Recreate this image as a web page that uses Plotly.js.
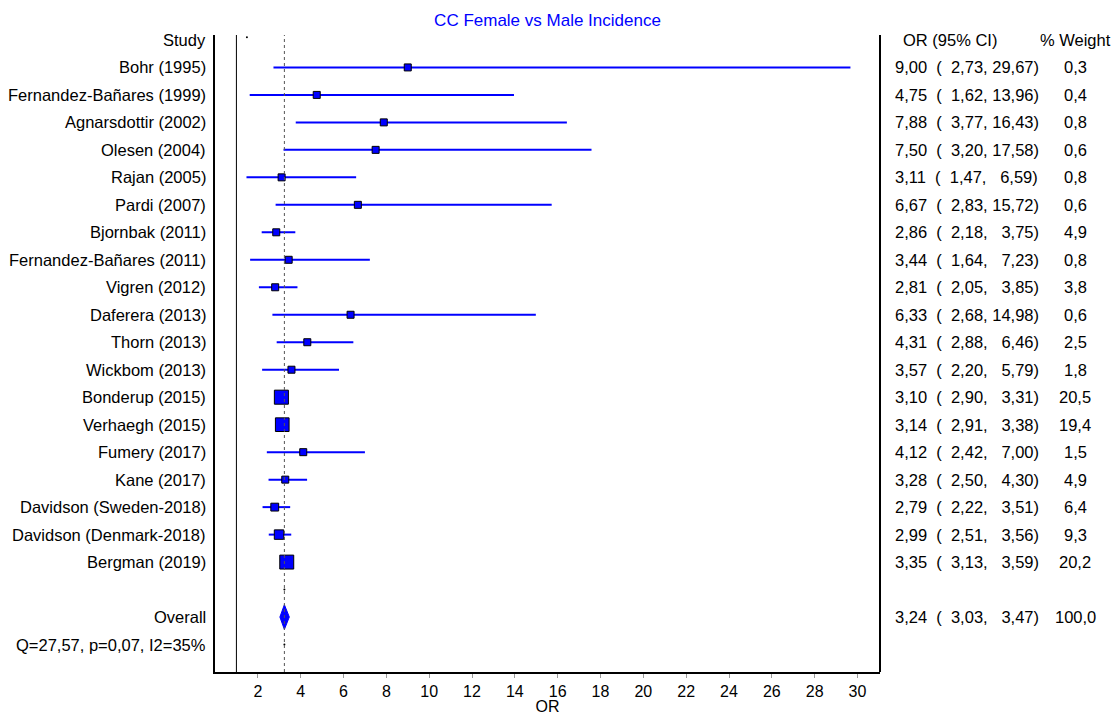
<!DOCTYPE html>
<html><head><meta charset="utf-8">
<script src="https://cdn.plot.ly/plotly-3.0.1.min.js"></script>
<style>body{margin:0;background:#fff}#chart{width:1112px;height:715px}</style>
</head><body><div id="chart"></div>
<script>
const studies = ["Bohr (1995)","Fernandez-Bañares (1999)","Agnarsdottir (2002)","Olesen (2004)","Rajan (2005)","Pardi (2007)","Bjornbak (2011)","Fernandez-Bañares (2011)","Vigren (2012)","Daferera (2013)","Thorn (2013)","Wickbom (2013)","Bonderup (2015)","Verhaegh (2015)","Fumery (2017)","Kane (2017)","Davidson (Sweden-2018)","Davidson (Denmark-2018)","Bergman (2019)"];
const orVals = [9.00,4.75,7.88,7.50,3.11,6.67,2.86,3.44,2.81,6.33,4.31,3.57,3.10,3.14,4.12,3.28,2.79,2.99,3.35];
const loVals = [2.73,1.62,3.77,3.20,1.47,2.83,2.18,1.64,2.05,2.68,2.88,2.20,2.90,2.91,2.42,2.50,2.22,2.51,3.13];
const hiVals = [29.67,13.96,16.43,17.58,6.59,15.72,3.75,7.23,3.85,14.98,6.46,5.79,3.31,3.38,7.00,4.30,3.51,3.56,3.59];
const weights = [0.3,0.4,0.8,0.6,0.8,0.6,4.9,0.8,3.8,0.6,2.5,1.8,20.5,19.4,1.5,4.9,6.4,9.3,20.2];
const overall = {label:"Overall", or:3.24, lo:3.03, hi:3.47, weight:100.0};
const heteroText = "Q=27,57, p=0,07, I2=35%";
const titleText = "CC Female vs Male Incidence";
const xTicks = [2,4,6,8,10,12,14,16,18,20,22,24,26,28,30];

const NB = "\u00A0";
function fmt(v, digits){
  let s = v.toFixed(2).replace('.', ',');
  const intLen = s.split(',')[0].length;
  return NB.repeat(2*(digits-intLen)) + s;
}
function orText(o,l,h){ return fmt(o,1) + NB+NB + "(" + NB+NB + fmt(l,1) + "," + NB + fmt(h,2) + ")"; }
function wText(w){ return w.toFixed(1).replace('.', ','); }

const rows = studies.map((s,i)=>i+1);
const overallRow = studies.length + 2;
const heteroRow = overallRow + 1;

const cx=[], cy=[];
studies.forEach((s,i)=>{ cx.push(loVals[i],hiVals[i],null); cy.push(rows[i],rows[i],null); });
const sizes = weights.map(w=>Math.max(7, 3.1*Math.sqrt(w)));

const traces = [
  {type:'scatter', mode:'lines', x:cx, y:cy, line:{color:'#0000ff', width:2}, hoverinfo:'skip', showlegend:false},
  {type:'scatter', mode:'markers', x:orVals, y:rows, marker:{symbol:'square', size:sizes, color:'#0000ff', opacity:1, line:{color:'#000', width:1}}, showlegend:false},
  {type:'scatter', mode:'lines', fill:'toself', fillcolor:'#0000ff',
    x:[overall.lo, overall.or, overall.hi, overall.or, overall.lo],
    y:[overallRow, overallRow-0.45, overallRow, overallRow+0.45, overallRow],
    line:{color:'#0000ff', width:1}, showlegend:false},
  {type:'scatter', mode:'markers', x:[1.49, overall.or, overall.or], y:[-0.1, overallRow-1, heteroRow], marker:{color:'#000', size:2, opacity:1}, showlegend:false}
];

const plotL=215, plotR=880, W=1112;
const pw = plotR-plotL;
const annotations = [];
const leftX = -7/pw;
const font = {family:'Liberation Sans, Arial, sans-serif', size:16.5, color:'#000'};
const tfont = {family:'Liberation Sans, Arial, sans-serif', size:16, color:'#000'};
annotations.push({x:leftX, xref:'paper', y:0, yref:'y', text:'Study', xanchor:'right', yanchor:'middle', showarrow:false, font});
studies.forEach((s,i)=>annotations.push({x:leftX, xref:'paper', y:rows[i], yref:'y', text:s, xanchor:'right', yanchor:'middle', showarrow:false, font}));
annotations.push({x:leftX, xref:'paper', y:overallRow, yref:'y', text:overall.label, xanchor:'right', yanchor:'middle', showarrow:false, font});
annotations.push({x:leftX, xref:'paper', y:heteroRow, yref:'y', text:heteroText, xanchor:'right', yanchor:'middle', showarrow:false, font});

const orX = (893-plotL)/pw, wX = (1075-plotL)/pw;
annotations.push({x:(901-plotL)/pw, xref:'paper', y:0, yref:'y', text:'OR (95% CI)', xanchor:'left', yanchor:'middle', showarrow:false, font});
annotations.push({x:wX, xref:'paper', y:0, yref:'y', text:'% Weight', xanchor:'center', yanchor:'middle', showarrow:false, font});
studies.forEach((s,i)=>{
  annotations.push({x:orX, xref:'paper', y:rows[i], yref:'y', text:orText(orVals[i],loVals[i],hiVals[i]), xanchor:'left', yanchor:'middle', showarrow:false, font});
  annotations.push({x:wX, xref:'paper', y:rows[i], yref:'y', text:wText(weights[i]), xanchor:'center', yanchor:'middle', showarrow:false, font});
});
annotations.push({x:orX, xref:'paper', y:overallRow, yref:'y', text:orText(overall.or,overall.lo,overall.hi), xanchor:'left', yanchor:'middle', showarrow:false, font});
annotations.push({x:wX, xref:'paper', y:overallRow, yref:'y', text:wText(overall.weight), xanchor:'center', yanchor:'middle', showarrow:false, font});

const layout = {
  width:1112, height:715,
  margin:{l:plotL, r:W-plotR, t:35, b:43, pad:0},
  paper_bgcolor:'#fff', plot_bgcolor:'#fff',
  font,
  title:{text:titleText, font:{family:font.family, size:17, color:'#0000ff'}, x:0.5, xref:'paper', xanchor:'center', y:1-20/715, yanchor:'middle'},
  xaxis:{range:[0,31.05], tickvals:xTicks, ticktext:xTicks.map(String), ticks:'outside', ticklen:4, tickcolor:'#999', tickwidth:1,
    showline:true, linecolor:'#000', linewidth:2, showgrid:false, zeroline:false, tickfont:tfont,
    title:{text:'OR', font:tfont, standoff:0}},
  yaxis:{range:[23,-0.18], showline:true, linecolor:'#000', linewidth:2, showgrid:false, zeroline:false, showticklabels:false, ticks:''},
  shapes:[
    {type:'line', xref:'paper', yref:'paper', x0:1, x1:1, y0:0, y1:1, line:{color:'#000', width:2}},
    {type:'line', xref:'x', yref:'paper', x0:1, x1:1, y0:0, y1:1, line:{color:'#000', width:1}},
    {type:'line', xref:'x', yref:'paper', x0:overall.or, x1:overall.or, y0:0, y1:1, line:{color:'#555', width:1, dash:'dot'}}
  ],
  annotations
};
Plotly.newPlot('chart', traces, layout, {displayModeBar:false, staticPlot:true});
</script></body></html>
